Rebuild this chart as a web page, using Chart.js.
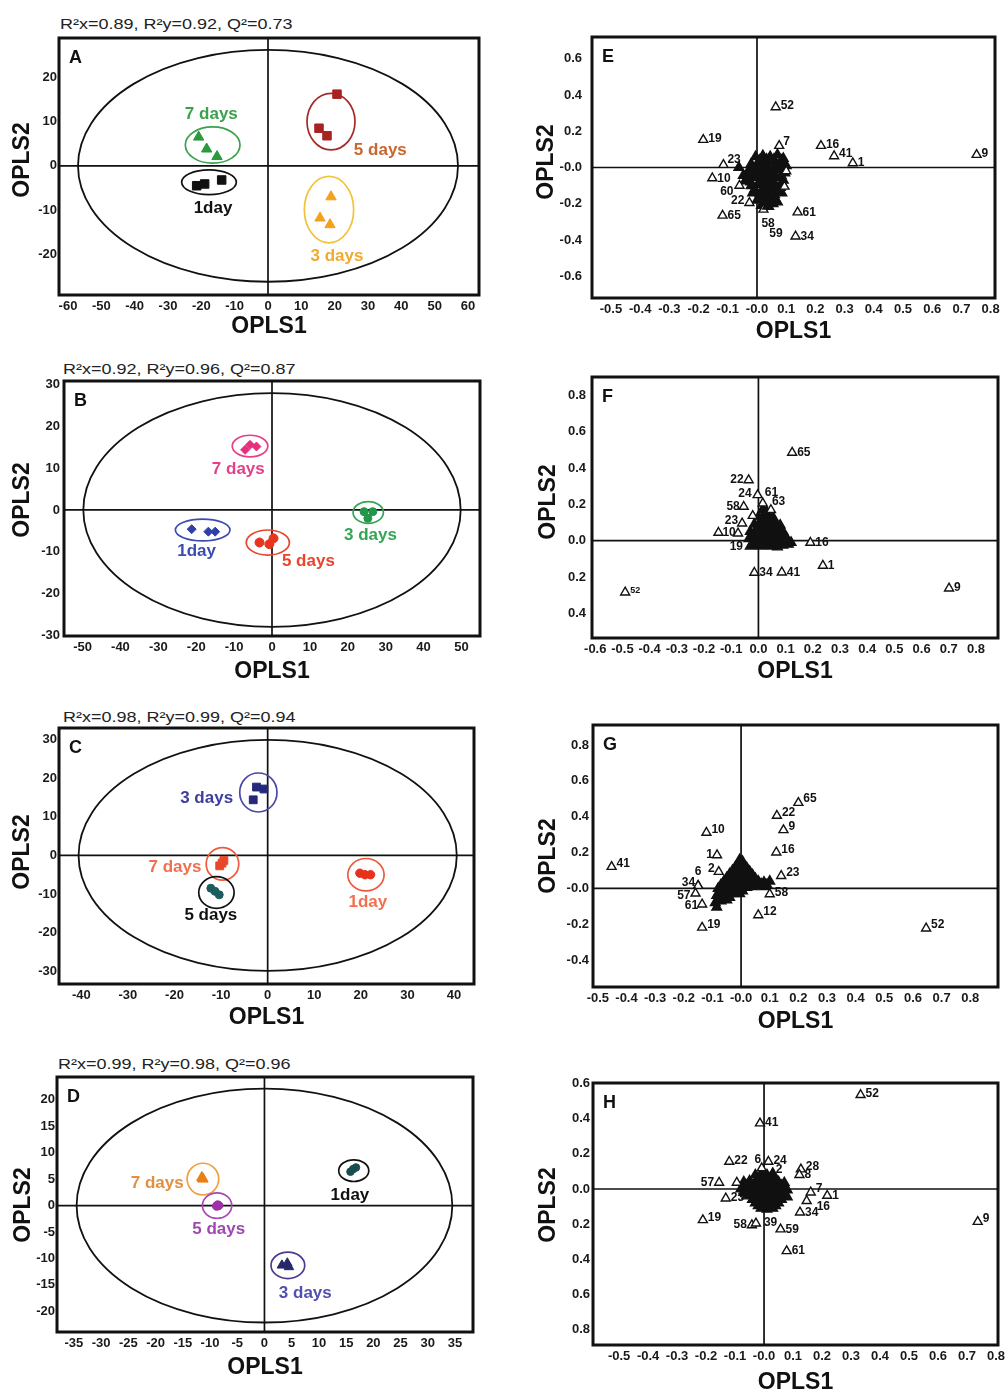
<!DOCTYPE html>
<html><head><meta charset="utf-8">
<script src="https://cdn.jsdelivr.net/npm/chart.js@4.4.0/dist/chart.umd.min.js"></script>
<style>
html,body{margin:0;padding:0;background:#fff;overflow:hidden;width:1005px;height:1389px;position:relative;}
canvas{position:absolute;}
.ttl{position:absolute;font-family:"Liberation Sans",Arial,Helvetica,sans-serif;font-size:15px;line-height:15px;color:#222;white-space:nowrap;transform-origin:left bottom;transform:scaleX(1.2);}
</style></head><body>
<div class="ttl" style="left:60px;top:16px">R²x=0.89, R²y=0.92, Q²=0.73</div>
<div class="ttl" style="left:63px;top:361px">R²x=0.92, R²y=0.96, Q²=0.87</div>
<div class="ttl" style="left:63px;top:709px">R²x=0.98, R²y=0.99, Q²=0.94</div>
<div class="ttl" style="left:58px;top:1056px">R²x=0.99, R²y=0.98, Q²=0.96</div>
<script>
const FONT = '"Liberation Sans", Arial, Helvetica, sans-serif';

// ================= DATA =================
// Score plots (OPLS1, OPLS2)
const A_1day  = [[-21.4,-4.5],[-19.0,-4.1],[-13.9,-3.2]];
const A_3days = [[18.9,-7.0],[15.6,-11.8],[18.6,-13.3]];
const A_5days = [[20.7,16.2],[15.3,8.5],[17.7,6.8]];
const A_7days = [[-20.8,6.5],[-18.4,3.8],[-15.3,2.1]];

const B_1day  = [[-21.2,-4.6],[-16.8,-5.2],[-15.0,-5.2]];
const B_3days = [[24.3,-0.4],[26.6,-0.4],[25.3,-2.0]];
const B_5days = [[-3.3,-7.8],[-0.7,-8.2],[0.4,-6.8]];
const B_7days = [[-7.1,14.4],[-5.8,15.6],[-4.1,15.2]];

const C_1day  = [[19.8,-4.6],[20.9,-5.0],[22.1,-5.0]];
const C_3days = [[-2.4,17.7],[-0.8,17.2],[-3.1,14.4]];
const C_5days = [[-12.2,-8.5],[-11.3,-9.3],[-10.4,-10.2]];
const C_7days = [[-9.4,-1.3],[-10.3,-2.7],[-9.8,-2.0]];

const D_1day  = [[15.8,6.4],[16.3,6.9],[16.8,7.2]];
const D_3days = [[3.2,-11.3],[4.2,-10.9],[4.5,-11.6]];
const D_5days = [[-8.6,0.1],[-8.4,0.0],[-8.8,-0.1]];
const D_7days = [[-11.4,5.2],[-11.3,5.0],[-11.5,5.3]];

// Loading plots: labelled variables
const E_ids = ['52','19','7','16','41','1','9','23','10','60','22','65','58','59','61','34'];
const E_x   = [0.064,-0.184,0.076,0.219,0.264,0.328,0.752,-0.115,-0.153,-0.060,-0.026,-0.118,0.022,0.035,0.139,0.132];
const E_y   = [0.333,0.153,0.120,0.120,0.063,0.024,0.070,0.015,-0.059,-0.100,-0.195,-0.265,-0.232,-0.215,-0.247,-0.380];
const E_open = [[0.094,-0.105],[0.100,-0.020]];
const E_cluster = [
 [-0.005,0.06],[0.02,0.065],[0.045,0.06],[0.07,0.07],[0.09,0.05],
 [-0.02,0.02],[0.005,0.025],[0.03,0.02],[0.055,0.03],[0.08,0.02],[0.1,0.01],
 [-0.03,-0.02],[-0.005,-0.015],[0.02,-0.02],[0.045,-0.025],[0.07,-0.015],[0.095,-0.03],
 [-0.035,-0.06],[-0.01,-0.055],[0.015,-0.06],[0.04,-0.065],[0.065,-0.055],[0.09,-0.07],
 [-0.02,-0.1],[0.005,-0.095],[0.03,-0.105],[0.055,-0.1],[0.08,-0.11],
 [-0.015,-0.14],[0.01,-0.145],[0.035,-0.135],[0.06,-0.15],[0.085,-0.14],
 [0.0,-0.18],[0.025,-0.185],[0.05,-0.175],[0.07,-0.19],
 [0.015,-0.21],[0.04,-0.215],
 [-0.062,0.0],[-0.047,-0.044],[-0.04,-0.075],
 [0.008,0.04],[0.033,0.045],[0.058,0.045],[0.083,0.04],[-0.018,0.0],[0.008,0.0],[0.033,0.0],[0.058,0.005],[0.083,0.0],
 [-0.02,-0.04],[0.008,-0.04],[0.033,-0.04],[0.058,-0.04],[0.083,-0.045],[-0.022,-0.08],[0.008,-0.08],[0.033,-0.085],
 [0.058,-0.08],[0.083,-0.09],[-0.008,-0.12],[0.02,-0.12],[0.045,-0.12],[0.07,-0.125],[0.012,-0.16],[0.037,-0.16],
 [0.06,-0.165],[0.028,-0.2],[0.055,-0.2]];

const F_ids = ['65','22','24','61','63','58','23','10','19','16','1','34','41','52','9'];
const F_x   = [0.124,-0.036,-0.003,0.016,0.046,-0.054,-0.060,-0.147,-0.020,0.191,0.237,-0.015,0.086,-0.490,0.701];
const F_y   = [0.484,0.333,0.251,0.205,0.169,0.187,0.095,0.044,-0.020,-0.011,-0.137,-0.176,-0.174,-0.284,-0.262];
const F_open = [[-0.021,0.137],[-0.075,0.040]];
const F_cluster = [
 [0.015,0.17],[0.03,0.16],
 [0.0,0.13],[0.02,0.135],[0.04,0.13],[0.055,0.125],
 [-0.015,0.09],[0.005,0.095],[0.025,0.09],[0.045,0.095],[0.065,0.09],[0.08,0.085],
 [-0.03,0.05],[-0.01,0.055],[0.01,0.05],[0.03,0.055],[0.05,0.05],[0.07,0.055],[0.09,0.05],
 [-0.035,0.01],[-0.015,0.015],[0.005,0.01],[0.025,0.015],[0.045,0.01],[0.065,0.015],[0.085,0.01],[0.105,0.005],
 [-0.03,-0.03],[-0.01,-0.025],[0.01,-0.03],[0.03,-0.025],[0.05,-0.03],[0.07,-0.035],[0.09,-0.025],[0.11,-0.02],
 [0.022,0.15],[0.01,0.11],[0.03,0.11],[0.05,0.11],[-0.005,0.07],[0.015,0.07],[0.035,0.07],[0.055,0.07],[0.075,0.07],
 [-0.02,0.03],[0.0,0.03],[0.02,0.03],[0.04,0.03],[0.06,0.03],[0.08,0.03],[0.1,0.025],[-0.02,-0.01],[0.0,-0.01],
 [0.02,-0.005],[0.04,-0.01],[0.06,-0.01],[0.08,-0.01],[0.1,-0.005],[0.12,-0.01]];

const G_ids = ['65','22','9','10','16','1','41','2','23','6','34','57','61','58','12','19','52'];
const G_x   = [0.200,0.125,0.148,-0.121,0.123,-0.084,-0.452,-0.078,0.140,-0.150,-0.150,-0.159,-0.136,0.100,0.060,-0.136,0.646];
const G_y   = [0.478,0.406,0.326,0.311,0.201,0.186,0.121,0.093,0.070,0.015,0.015,-0.028,-0.089,-0.032,-0.149,-0.218,-0.223];
const G_open = [];
const G_cluster = [
 [-0.005,0.16],[0.005,0.15],
 [-0.02,0.12],[0.0,0.125],[0.02,0.115],
 [-0.04,0.08],[-0.02,0.085],[0.0,0.08],[0.02,0.085],[0.04,0.075],
 [-0.06,0.04],[-0.04,0.045],[-0.02,0.04],[0.0,0.045],[0.02,0.04],[0.04,0.045],[0.06,0.04],[0.08,0.035],[0.1,0.04],
 [-0.08,0.0],[-0.06,0.005],[-0.04,0.0],[-0.02,0.005],[0.0,0.0],[0.02,0.005],[0.04,0.01],[0.06,0.015],[0.08,0.01],
 [-0.085,-0.04],[-0.065,-0.035],[-0.045,-0.04],[-0.025,-0.03],[-0.005,-0.03],
 [-0.09,-0.08],[-0.07,-0.07],[-0.05,-0.065],
 [-0.085,-0.105],
 [-0.01,0.14],[-0.03,0.1],[-0.01,0.1],[0.01,0.1],[0.03,0.095],[-0.05,0.06],[-0.03,0.06],[-0.01,0.06],[0.01,0.06],
 [0.03,0.06],[0.05,0.055],[-0.07,0.02],[-0.05,0.02],[-0.03,0.02],[-0.01,0.02],[0.01,0.02],[0.03,0.025],[0.05,0.025],
 [0.07,0.025],[0.09,0.02],[-0.075,-0.02],[-0.055,-0.02],[-0.035,-0.015],[-0.015,-0.015],[0.005,-0.015],[-0.08,-0.06],
 [-0.06,-0.05],[-0.04,-0.05]];

const H_ids = ['52','41','22','6','24','2','28','8','57','23','7','1','16','34','19','58','39','59','61','9'];
const H_x   = [0.333,-0.014,-0.120,-0.008,0.015,0.030,0.127,0.122,-0.155,-0.132,0.161,0.218,0.147,0.124,-0.211,-0.042,-0.028,0.057,0.078,0.737];
const H_y   = [0.534,0.373,0.155,0.118,0.155,0.090,0.112,0.080,0.036,-0.053,-0.019,-0.038,-0.068,-0.133,-0.176,-0.205,-0.195,-0.229,-0.352,-0.186];
const H_open = [[-0.094,0.036]];
const H_cluster = [
 [-0.03,0.08],[-0.01,0.085],[0.01,0.08],[0.03,0.075],
 [-0.07,0.04],[-0.05,0.045],[-0.03,0.04],[-0.01,0.045],[0.01,0.04],[0.03,0.045],[0.05,0.04],[0.07,0.035],
 [-0.08,0.0],[-0.06,0.005],[-0.04,0.0],[-0.02,0.005],[0.0,0.0],[0.02,0.005],[0.04,0.0],[0.06,0.005],[0.08,-0.005],
 [-0.06,-0.04],[-0.04,-0.035],[-0.02,-0.04],[0.0,-0.035],[0.02,-0.04],[0.04,-0.035],[0.06,-0.04],[0.08,-0.045],
 [-0.03,-0.08],[-0.01,-0.075],[0.01,-0.08],[0.03,-0.085],[0.05,-0.08],
 [-0.01,-0.11],[0.01,-0.115],[0.03,-0.11],
 [-0.02,0.06],[0.0,0.06],[0.02,0.06],[0.04,0.055],[-0.06,0.02],[-0.04,0.02],[-0.02,0.02],[0.0,0.02],[0.02,0.02],
 [0.04,0.02],[0.06,0.02],[-0.07,-0.02],[-0.05,-0.02],[-0.03,-0.02],[-0.01,-0.02],[0.01,-0.02],[0.03,-0.02],[0.05,-0.02],
 [0.07,-0.02],[-0.04,-0.06],[-0.02,-0.06],[0.0,-0.06],[0.02,-0.06],[0.04,-0.06],[0.06,-0.06],[-0.02,-0.095],
 [0.0,-0.095],[0.02,-0.095],[0.04,-0.095]];

// Tick values and labels
const A_xTicks = [-60,-50,-40,-30,-20,-10,0,10,20,30,40,50,60];
const A_yTicks = [-20,-10,0,10,20];
const B_xTicks = [-50,-40,-30,-20,-10,0,10,20,30,40,50];
const B_yTicks = [-30,-20,-10,0,10,20,30];
const C_xTicks = [-40,-30,-20,-10,0,10,20,30,40];
const C_yTicks = [-30,-20,-10,0,10,20,30];
const D_xTicks = [-35,-30,-25,-20,-15,-10,-5,0,5,10,15,20,25,30,35];
const D_yTicks = [-20,-15,-10,-5,0,5,10,15,20];
const E_xTicks = [-0.5,-0.4,-0.3,-0.2,-0.1,0,0.1,0.2,0.3,0.4,0.5,0.6,0.7,0.8];
const E_xLabels = ['-0.5','-0.4','-0.3','-0.2','-0.1','-0.0','0.1','0.2','0.3','0.4','0.5','0.6','0.7','0.8'];
const E_yTicks = [-0.6,-0.4,-0.2,0,0.2,0.4,0.6];
const E_yLabels = ['-0.6','-0.4','-0.2','-0.0','0.2','0.4','0.6'];
const F_xTicks = [-0.6,-0.5,-0.4,-0.3,-0.2,-0.1,0,0.1,0.2,0.3,0.4,0.5,0.6,0.7,0.8];
const F_xLabels = ['-0.6','-0.5','-0.4','-0.3','-0.2','-0.1','0.0','0.1','0.2','0.3','0.4','0.5','0.6','0.7','0.8'];
const F_yTicks = [-0.4,-0.2,0,0.2,0.4,0.6,0.8];
const F_yLabels = ['0.4','0.2','0.0','0.2','0.4','0.6','0.8'];
const G_yTicks = [-0.4,-0.2,0,0.2,0.4,0.6,0.8];
const G_yLabels = ['-0.4','-0.2','-0.0','0.2','0.4','0.6','0.8'];
const H_yTicks = [-0.8,-0.6,-0.4,-0.2,0,0.2,0.4,0.6];
const H_yLabels = ['0.8','0.6','0.4','0.2','0.0','0.2','0.4','0.6'];

// ================= ANNOTATION LAYOUT (styles / placements) =================
const GRP = {
 A:[{t:'7 days',c:[-16.6,4.7],r:[8.2,4.1],lab:[-17,11.7],col:'#3aa24c'},
    {t:'1day',c:[-17.7,-3.7],r:[8.2,2.8],lab:[-16.5,-9.6],col:'#111',lcol:'#111'},
    {t:'5 days',c:[18.9,10.0],r:[7.2,6.4],lab:[33.7,3.6],col:'#a52a2a',lcol:'#c8662e'},
    {t:'3 days',c:[18.3,-9.9],r:[7.4,7.5],lab:[20.7,-20.5],col:'#f2c23a',lcol:'#f0aa30'}],
 B:[{t:'7 days',c:[-5.8,15.3],r:[4.7,2.6],lab:[-8.9,9.8],col:'#e6408a'},
    {t:'1day',c:[-18.3,-4.8],r:[7.2,2.6],lab:[-19.9,-10],col:'#3b4bb0'},
    {t:'5 days',c:[-1.1,-7.8],r:[5.7,3.0],lab:[9.6,-12.4],col:'#e8452c'},
    {t:'3 days',c:[25.4,-0.6],r:[4.0,2.6],lab:[26,-6],col:'#33a655'}],
 C:[{t:'3 days',c:[-2,16.3],r:[4,5.05],lab:[-13.1,14.7],col:'#4a48a8',lcol:'#3e3e9e'},
    {t:'7 days',c:[-9.7,-2.2],r:[3.5,4.2],lab:[-19.9,-3.1],col:'#ee5a3c',lcol:'#f07050'},
    {t:'5 days',c:[-11,-9.6],r:[3.8,4.1],lab:[-12.2,-15.6],col:'#111',lcol:'#111'},
    {t:'1day',c:[21.1,-5],r:[3.9,4.2],lab:[21.5,-12.2],col:'#ec5a3c',lcol:'#f07050'}],
 D:[{t:'7 days',c:[-11.3,5],r:[2.9,3.0],lab:[-19.7,4.2],col:'#f0a040',lcol:'#e09040'},
    {t:'5 days',c:[-8.7,0],r:[2.7,2.4],lab:[-8.4,-4.4],col:'#a848b4',lcol:'#a048b0'},
    {t:'1day',c:[16.4,6.6],r:[2.76,2.05],lab:[15.7,2],col:'#111',lcol:'#111'},
    {t:'3 days',c:[4.3,-11.3],r:[3.1,2.5],lab:[7.5,-16.6],col:'#4a3c96',lcol:'#5050b0'}]
};
// label offsets [dx, dy, anchor]: 'l' text starts right of point, 'r' text ends left of point, 'c' centred
const LAB = {
 E:{'52':[5,-1,'l'],'19':[5,-1,'l'],'7':[4,-4,'l'],'16':[5,-1,'l'],'41':[5,-2,'l'],'1':[5,0,'l'],'9':[5,-1,'l'],
    '23':[4,-5,'l'],'10':[5,0,'l'],'60':[-6,6,'r'],'22':[-5,-2,'r'],'65':[5,0,'l'],'58':[-2,14,'l'],'59':[2,27,'l'],
    '61':[5,0,'l'],'34':[5,0,'l']},
 F:{'65':[5,0,'l'],'22':[-5,0,'r'],'24':[-6,-1,'r'],'61':[2,-11,'l'],'63':[1,-8,'l'],'58':[-4,0,'r'],'23':[-4,-3,'r'],
    '10':[4,0,'l'],'19':[-10,2,'r'],'16':[5,0,'l'],'1':[5,0,'l'],'34':[5,0,'l'],'41':[5,0,'l'],'52':[5,-2,'l',9],'9':[5,-1,'l']},
 G:{'65':[5,-4,'l'],'22':[5,-3,'l'],'9':[5,-3,'l'],'10':[5,-3,'l'],'16':[5,-3,'l'],'1':[-4,0,'r'],'41':[5,-3,'l'],
    '2':[-4,-3,'r'],'23':[5,-3,'l'],'6':[0,-14,'c'],'34':[-3,-3,'r'],'57':[-5,2,'r'],'61':[-4,1,'r'],'58':[5,-1,'l'],
    '12':[5,-3,'l'],'19':[5,-3,'l'],'52':[5,-4,'l']},
 H:{'52':[5,-1,'l'],'41':[5,-1,'l'],'22':[5,-1,'l'],'6':[-4,-9,'c'],'24':[5,-1,'l'],'2':[3,-3,'l'],'28':[5,-3,'l'],
    '8':[5,0,'l'],'57':[-5,0,'r'],'23':[5,-1,'l'],'7':[5,-4,'l'],'1':[5,0,'l'],'16':[10,6,'l'],'34':[5,0,'l'],
    '19':[5,-2,'l'],'58':[-5,0,'r'],'39':[8,-1,'l'],'59':[5,0,'l'],'61':[5,0,'l'],'9':[5,-3,'l']}
};
const FILLED = {E:['59'], F:['19'], G:[], H:['2']};

// ================= BUILD =================
const pts = arr => arr.map(([x,y]) => ({x, y}));
function grp(data, style, r, color){
  return {data: pts(data), pointStyle: style, pointRadius: r, backgroundColor: color, borderColor: color, borderWidth: 1, showLine:false};
}
function loadingSets(ids, xs, ys, open, cluster, filled){
  return [
    {data: ids.map((id,i)=>({x:xs[i], y:ys[i]})), pointStyle:'triangle', pointRadius:5.2, borderWidth:1.4,
     borderColor:'#111', backgroundColor: ids.map(id => filled.includes(id) ? '#111' : '#fff')},
    {data: pts(open), pointStyle:'triangle', pointRadius:5.2, borderWidth:1.4, borderColor:'#111', backgroundColor:'#fff'},
    {data: pts(cluster), pointStyle:'triangle', pointRadius:5.6, borderWidth:1.4, borderColor:'#111', backgroundColor:'#111'}
  ];
}
const num = t => t.map(v => String(v));

const panels = [
 {k:'A', cv:[0,0,500,345], box:[59,38,479,295], xr:[-62.7,63.3], yr:[-29.2,28.9], xt:A_xTicks, xl:num(A_xTicks), yt:A_yTicks, yl:num(A_yTicks),
  ypad:2, x1:32, y2:[23,160], hot:[57,26.2],
  ds:[grp(A_7days,'triangle',6,'#2a9a3c'), grp(A_1day,'rect',6,'#111'), grp(A_5days,'rect',6,'#a82222'), grp(A_3days,'triangle',6,'#f2a21e')]},
 {k:'B', cv:[0,345,500,350], box:[64,381,480,636], xr:[-54.9,54.9], yr:[-30.2,30.9], xt:B_xTicks, xl:num(B_xTicks), yt:B_yTicks, yl:num(B_yTicks),
  ypad:4, x1:36, y2:[23,500], hot:[49.8,28],
  ds:[grp(B_7days,'rectRot',4.5,'#e6307e'), grp(B_1day,'rectRot',4.5,'#2f40aa'), grp(B_5days,'circle',4.5,'#e8361e'), grp(B_3days,'circle',4,'#23964a')]},
 {k:'C', cv:[0,695,500,347], box:[59,728,474,984], xr:[-44.8,44.3], yr:[-33.3,33.0], xt:C_xTicks, xl:num(C_xTicks), yt:C_yTicks, yl:num(C_yTicks),
  ypad:2, x1:34, y2:[23,852], hot:[40.6,29.9],
  ds:[grp(C_3days,'rect',5.5,'#26287a'), grp(C_7days,'rect',5.5,'#e8482a'), grp(C_5days,'circle',4,'#1c5c5c'), grp(C_1day,'circle',4.2,'#e8301e')]},
 {k:'D', cv:[0,1042,500,347], box:[57,1077,473,1332], xr:[-38.1,38.3], yr:[-23.9,24.3], xt:D_xTicks, xl:num(D_xTicks), yt:D_yTicks, yl:num(D_yTicks),
  ypad:2, x1:36, y2:[24,1205], hot:[34.5,22.1],
  ds:[grp(D_7days,'triangle',6,'#e88018'), grp(D_5days,'circle',4.2,'#a030a8'), grp(D_1day,'circle',3.8,'#1a4e4e'), grp(D_3days,'triangle',5.5,'#282868')]},
 {k:'E', cv:[500,0,505,345], box:[592,37,995,298], xr:[-0.565,0.815], yr:[-0.72,0.72], xt:E_xTicks, xl:E_xLabels, yt:E_yTicks, yl:E_yLabels,
  ypad:10, x1:34, y2:[547,162],
  ds:loadingSets(E_ids,E_x,E_y,E_open,E_cluster,FILLED.E), ids:E_ids},
 {k:'F', cv:[500,345,505,350], box:[592,377,1003,638], xr:[-0.612,0.881], yr:[-0.535,0.9], xt:F_xTicks, xl:F_xLabels, yt:F_yTicks, yl:F_yLabels,
  ypad:6, x1:34, y2:[549,502],
  ds:loadingSets(F_ids,F_x,F_y,F_open,F_cluster,FILLED.F), ids:F_ids},
 {k:'G', cv:[500,695,505,347], box:[593,725,1003,987], xr:[-0.517,0.897], yr:[-0.55,0.912], xt:E_xTicks, xl:E_xLabels, yt:G_yTicks, yl:G_yLabels,
  ypad:4, x1:35, y2:[549,856],
  ds:loadingSets(G_ids,G_x,G_y,G_open,G_cluster,FILLED.G), ids:G_ids},
 {k:'H', cv:[500,1042,505,347], box:[593,1083,998,1345], xr:[-0.59,0.807], yr:[-0.886,0.602], xt:E_xTicks, xl:E_xLabels, yt:H_yTicks, yl:H_yLabels,
  ypad:3, x1:38, y2:[549,1205],
  ds:loadingSets(H_ids,H_x,H_y,H_open,H_cluster,FILLED.H), ids:H_ids}
];

function panelPlugin(p){
  const [cx0, cy0] = p.cv;
  return {
    id: 'panel' + p.k,
    beforeDatasetsDraw(chart){
      const {ctx, chartArea:a, scales:{x, y}} = chart;
      ctx.save();
      ctx.beginPath(); ctx.rect(a.left, a.top, a.right - a.left, a.bottom - a.top); ctx.clip();
      const x0 = x.getPixelForValue(0), y0 = y.getPixelForValue(0);
      ctx.strokeStyle = '#111'; ctx.lineWidth = 1.7;
      ctx.beginPath(); ctx.moveTo(x0, a.top); ctx.lineTo(x0, a.bottom); ctx.moveTo(a.left, y0); ctx.lineTo(a.right, y0); ctx.stroke();
      const ell = (c, r, col, lw) => {
        const px = x.getPixelForValue(c[0]), py = y.getPixelForValue(c[1]);
        const rx = Math.abs(x.getPixelForValue(c[0] + r[0]) - px), ry = Math.abs(y.getPixelForValue(c[1] + r[1]) - py);
        ctx.strokeStyle = col; ctx.lineWidth = lw;
        ctx.beginPath(); ctx.ellipse(px, py, rx, ry, 0, 0, Math.PI * 2); ctx.stroke();
      };
      if (p.hot) ell([0,0], p.hot, '#111', 1.8);
      (GRP[p.k] || []).forEach(g => ell(g.c, g.r, g.col, 1.7));
      ctx.restore();
    },
    afterDatasetsDraw(chart){
      const {ctx, scales:{x, y}} = chart;
      ctx.save();
      (GRP[p.k] || []).forEach(g => {
        ctx.font = 'bold 17px ' + FONT; ctx.fillStyle = g.lcol || g.col; ctx.textAlign = 'center'; ctx.textBaseline = 'middle';
        ctx.fillText(g.t, x.getPixelForValue(g.lab[0]), y.getPixelForValue(g.lab[1]));
      });
      if (p.ids){
        const meta = chart.getDatasetMeta(0);
        p.ids.forEach((id, i) => {
          const el = meta.data[i]; const o = LAB[p.k][id]; if (!o) return;
          ctx.font = 'bold ' + (o[3] || 12) + 'px ' + FONT; ctx.fillStyle = '#111'; ctx.textBaseline = 'middle';
          ctx.textAlign = o[2] === 'l' ? 'left' : (o[2] === 'r' ? 'right' : 'center');
          ctx.fillText(id, el.x + o[0], el.y + o[1]);
        });
      }
      ctx.restore();
    },
    afterDraw(chart){
      const {ctx, chartArea:a} = chart;
      ctx.save();
      ctx.strokeStyle = '#111'; ctx.lineWidth = 3;
      ctx.strokeRect(a.left, a.top, a.right - a.left, a.bottom - a.top);
      ctx.fillStyle = '#111'; ctx.font = 'bold 18px ' + FONT; ctx.textAlign = 'left'; ctx.textBaseline = 'alphabetic';
      ctx.fillText(p.k, a.left + 10, a.top + 25);
      ctx.font = 'bold 23px ' + FONT; ctx.textAlign = 'center'; ctx.textBaseline = 'middle';
      ctx.fillText('OPLS1', (a.left + a.right) / 2, a.bottom + p.x1);
      ctx.translate(p.y2[0] - cx0, p.y2[1] - cy0); ctx.rotate(-Math.PI / 2);
      ctx.fillText('OPLS2', 0, 0);
      ctx.restore();
    }
  };
}

function build(p){
  const [cx, cy, cw, ch] = p.cv; const [L, T, R, B] = p.box;
  const cv = document.createElement('canvas');
  cv.width = cw; cv.height = ch; cv.style.left = cx + 'px'; cv.style.top = cy + 'px';
  document.body.appendChild(cv);
  const tickFont = {family: FONT, size: 13, weight: 'bold'};
  new Chart(cv, {
    type: 'scatter',
    data: {datasets: p.ds},
    options: {
      responsive: false, animation: false, events: [],
      layout: {padding: {left: 0, top: T - cy, right: (cx + cw) - R, bottom: 0}},
      plugins: {legend: {display: false}, tooltip: {enabled: false}},
      scales: {
        x: {type: 'linear', min: p.xr[0], max: p.xr[1], grid: {display: false, drawTicks: false}, border: {display: false},
            ticks: {font: tickFont, color: '#1a1a1a', padding: 4, autoSkip: false, maxRotation: 0, minRotation: 0,
                    callback: (v, i) => p.xl[i]},
            afterBuildTicks: ax => { ax.ticks = p.xt.map(v => ({value: v})); },
            afterFit: ax => { ax.height = (cy + ch) - B; ax.paddingLeft = 0; ax.paddingRight = 0; }},
        y: {type: 'linear', min: p.yr[0], max: p.yr[1], grid: {display: false, drawTicks: false}, border: {display: false},
            ticks: {font: tickFont, color: '#1a1a1a', padding: p.ypad, autoSkip: false,
                    callback: (v, i) => p.yl[i]},
            afterBuildTicks: ax => { ax.ticks = p.yt.map(v => ({value: v})); },
            afterFit: ax => { ax.width = L - cx; ax.paddingTop = 0; ax.paddingBottom = 0; }}
      }
    },
    plugins: [panelPlugin(p)]
  });
}
panels.forEach(build);
</script>
</body></html>
